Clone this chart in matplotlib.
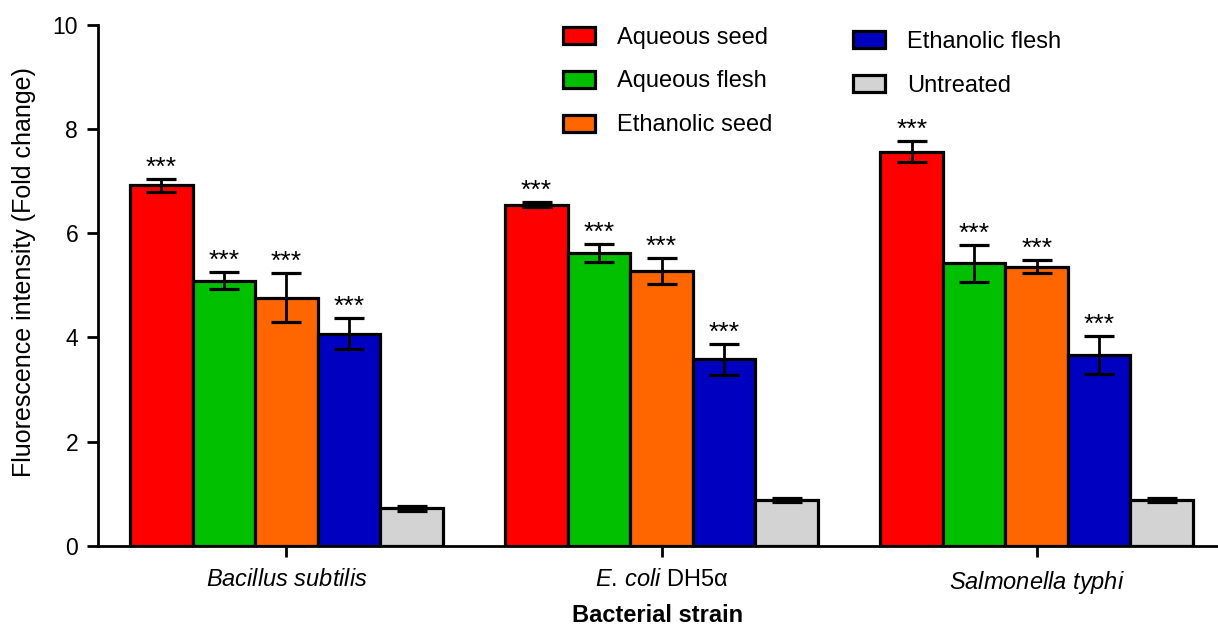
import matplotlib.pyplot as plt
import numpy as np

plt.rcParams['font.family'] = ['Liberation Sans', 'DejaVu Sans']
plt.rcParams['mathtext.fontset'] = 'custom'
plt.rcParams['mathtext.rm'] = 'Liberation Sans'
plt.rcParams['mathtext.it'] = 'Liberation Sans:italic'

strains = [r'$\mathit{Bacillus}$ $\mathit{subtilis}$', r'$\mathit{E.\,coli}$ DH5α',
           r'$\mathit{Salmonella}$ $\mathit{typhi}$']
treatments = ['Aqueous seed', 'Aqueous flesh', 'Ethanolic seed', 'Ethanolic flesh', 'Untreated']
colors = ['#ff0000', '#00c000', '#ff6600', '#0000c0', '#d3d3d3']

# mean fold change per treatment, one value per strain
aq_seed = [6.92, 6.55, 7.57]
aq_flesh = [5.09, 5.62, 5.42]
eth_seed = [4.76, 5.27, 5.36]
eth_flesh = [4.07, 3.58, 3.66]
untreated = [0.72, 0.87, 0.87]

aq_seed_err = [0.12, 0.05, 0.21]
aq_flesh_err = [0.17, 0.18, 0.36]
eth_seed_err = [0.47, 0.25, 0.13]
eth_flesh_err = [0.30, 0.30, 0.37]
untreated_err = [0.05, 0.04, 0.04]

# significance vs untreated
signif = ['***', '***', '***', '***', '']

means = [aq_seed, aq_flesh, eth_seed, eth_flesh, untreated]
errs = [aq_seed_err, aq_flesh_err, eth_seed_err, eth_flesh_err, untreated_err]

fig = plt.figure(figsize=(12.18, 6.26), dpi=100)
ax = fig.add_axes([0.0802, 0.1283, 0.9198, 0.8318])

centers = np.arange(len(strains)) * 6.0
handles = []
for i in range(len(treatments)):
    x = centers + (i - 2)
    b = ax.bar(x, means[i], width=1.0, color=colors[i], edgecolor='black',
               linewidth=2.3, label=treatments[i], zorder=2)
    handles.append(b)
    ax.errorbar(x, means[i], yerr=errs[i], fmt='none', ecolor='black',
                elinewidth=2.0, capsize=11, capthick=2.3, zorder=3)
    if signif[i]:
        for xx, m, e in zip(x, means[i], errs[i]):
            ax.text(xx, m + e + 0.08, signif[i], ha='center', va='baseline',
                    fontsize=19)

ax.set_xlim(-3.02, 14.9)
ax.set_ylim(0, 10)
ax.set_yticks([0, 2, 4, 6, 8, 10])
ax.set_xticks(centers)
ax.set_xticklabels(strains, fontsize=17)
ax.tick_params(axis='y', labelsize=16.5, length=8, width=2, direction='out', pad=6)
ax.tick_params(axis='x', length=8, width=2, direction='out', pad=9)

for side in ['top', 'right']:
    ax.spines[side].set_visible(False)
for side in ['left', 'bottom']:
    ax.spines[side].set_linewidth(2)

ax.set_ylabel('Fluorescence intensity (Fold change)', fontsize=18, va='center')
ax.yaxis.set_label_coords(-0.066, 0.525)
ax.set_xlabel('Bacterial strain', fontsize=17, fontweight='bold', va='center')
ax.xaxis.set_label_coords(0.5, -0.135)

leg_kw = dict(loc='upper left', frameon=False, fontsize=17, borderpad=0,
              borderaxespad=0, handlelength=1.35, handleheight=0.76,
              handletextpad=0.95, labelspacing=0.93)
leg1 = ax.legend(handles[:3], treatments[:3], bbox_to_anchor=(0.4153, 0.997), **leg_kw)
ax.add_artist(leg1)
ax.legend(handles[3:], treatments[3:], bbox_to_anchor=(0.6742, 0.989), **leg_kw)

fig.savefig('out.png', dpi=100)
